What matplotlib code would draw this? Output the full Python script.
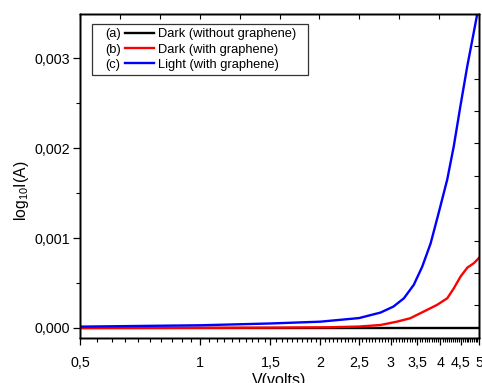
import matplotlib
matplotlib.use('Agg')
import matplotlib.pyplot as plt
from matplotlib.ticker import FixedLocator, MultipleLocator, FuncFormatter, NullFormatter
from matplotlib.legend_handler import HandlerBase
from matplotlib.lines import Line2D
from matplotlib.text import Text

plt.rcParams['font.family'] = ['Liberation Sans', 'DejaVu Sans']
plt.rcParams['mathtext.default'] = 'regular'

# voltage (V) and current (A)
v_dark = [0.5, 1.0, 2.0, 3.0, 4.0, 5.0]
i_dark = [0.0, 0.0, 0.0, 0.0, 0.0, 0.0]

v_dark_g = [0.5, 1.0, 1.5, 2.12, 2.5, 2.83, 3.11, 3.36, 3.63, 3.92, 4.16, 4.32, 4.49,
            4.67, 4.85, 5.0]
i_dark_g = [0.0, 0.000002, 0.000004, 0.000008, 0.000016, 0.000033, 0.00007, 0.000108,
            0.000182, 0.000256, 0.00033, 0.00044, 0.00057, 0.00067, 0.00072, 0.00078]

v_light_g = [0.5, 1.0, 1.5, 2.0, 2.5, 2.83, 3.05, 3.24, 3.43, 3.60, 3.78, 3.96, 4.16,
             4.32, 4.49, 4.67, 4.85, 5.0]
i_light_g = [0.000015, 0.00003, 0.00005, 0.00007, 0.00011, 0.000171, 0.000238, 0.00033,
             0.00048, 0.00068, 0.00094, 0.00128, 0.00165, 0.00202, 0.00247, 0.00291,
             0.00329, 0.0036]

tags = ['(a)', '(b)', '(c)']
labels = ['Dark (without graphene)', 'Dark (with graphene)', 'Light (with graphene)']
colors = ['black', 'red', 'blue']
xticks = [0.5, 1, 1.5, 2, 2.5, 3, 3.5, 4, 4.5, 5]


class TagHandler(HandlerBase):
    # draws "(a) ----" as one legend handle
    def __init__(self, tag):
        super().__init__()
        self.tag = tag

    def create_artists(self, legend, orig, xdescent, ydescent, width, height, fontsize, trans):
        y = -ydescent + height / 2
        t = Text(-xdescent + 0.16 * width, -ydescent, self.tag, fontsize=fontsize,
                 va='baseline', ha='left', transform=trans,
                 family=['Liberation Sans', 'DejaVu Sans'])
        ln = Line2D([-xdescent + 0.5 * width, -xdescent + width], [y, y],
                    color=orig.get_color(), lw=orig.get_linewidth(), transform=trans)
        return [t, ln]


fig = plt.figure(figsize=(4.82, 3.83), dpi=100)
ax = fig.add_axes([0.166, 0.1183, 0.828, 0.8451])

lines = []
for v, i, c, lab in zip([v_dark, v_dark_g, v_light_g], [i_dark, i_dark_g, i_light_g], colors, labels):
    l, = ax.plot(v, i, color=c, lw=1.7, label=lab)
    lines.append(l)

ax.set_xscale('log')
ax.set_xlim(0.5, 5)
ax.set_ylim(-0.000108, 0.00349)

ax.xaxis.set_major_locator(FixedLocator(xticks))
ax.xaxis.set_major_formatter(FuncFormatter(lambda x, p: ('%g' % x).replace('.', ',')))
ax.xaxis.set_minor_locator(MultipleLocator(0.05))
ax.xaxis.set_minor_formatter(NullFormatter())
ax.yaxis.set_major_locator(MultipleLocator(0.001))
ax.yaxis.set_minor_locator(MultipleLocator(0.0005))
ax.yaxis.set_major_formatter(FuncFormatter(lambda x, p: ('%.3f' % x).replace('.', ',')))

ax.tick_params(axis='both', which='major', direction='out', length=5, width=0.9,
               labelsize=10.3, top=False, right=False)
ax.tick_params(axis='both', which='minor', direction='out', length=3, width=0.8,
               top=False, right=False)
ax.tick_params(axis='x', which='major', pad=8)
ax.tick_params(axis='y', which='major', pad=2)

# unlabelled inward ticks on top and right
axr = ax.twinx()
axr.set_ylim(0, 10)
axr.set_yticks(range(11))
axr.tick_params(axis='y', direction='in', length=3.5, width=0.8, labelright=False)
axt = ax.twiny()
axt.set_xlim(0, 10)
axt.set_xticks(range(11))
axt.tick_params(axis='x', direction='in', length=3.5, width=0.8, labeltop=False)

for a in (ax, axr, axt):
    for s in a.spines.values():
        s.set_linewidth(1.0)
        s.set_color('black')

ax.set_xlabel('V(volts)', fontsize=11.5, labelpad=2)
ax.set_ylabel(r'log$_{10}$I(A)', fontsize=11.3)
ax.yaxis.set_label_coords(-0.122, 0.455)

leg = ax.legend(lines, [s + '  ' for s in labels], loc='upper left',
                bbox_to_anchor=(0.031, 0.968), borderaxespad=0,
                handler_map={l: TagHandler(t) for l, t in zip(lines, tags)},
                fontsize=9.3, handlelength=4.5, handletextpad=0.3, labelspacing=0.25,
                borderpad=0.3, frameon=True, fancybox=False)
leg.get_frame().set_edgecolor('black')
leg.get_frame().set_linewidth(0.9)
leg.set_zorder(5)

fig.savefig('out.png', dpi=100)
